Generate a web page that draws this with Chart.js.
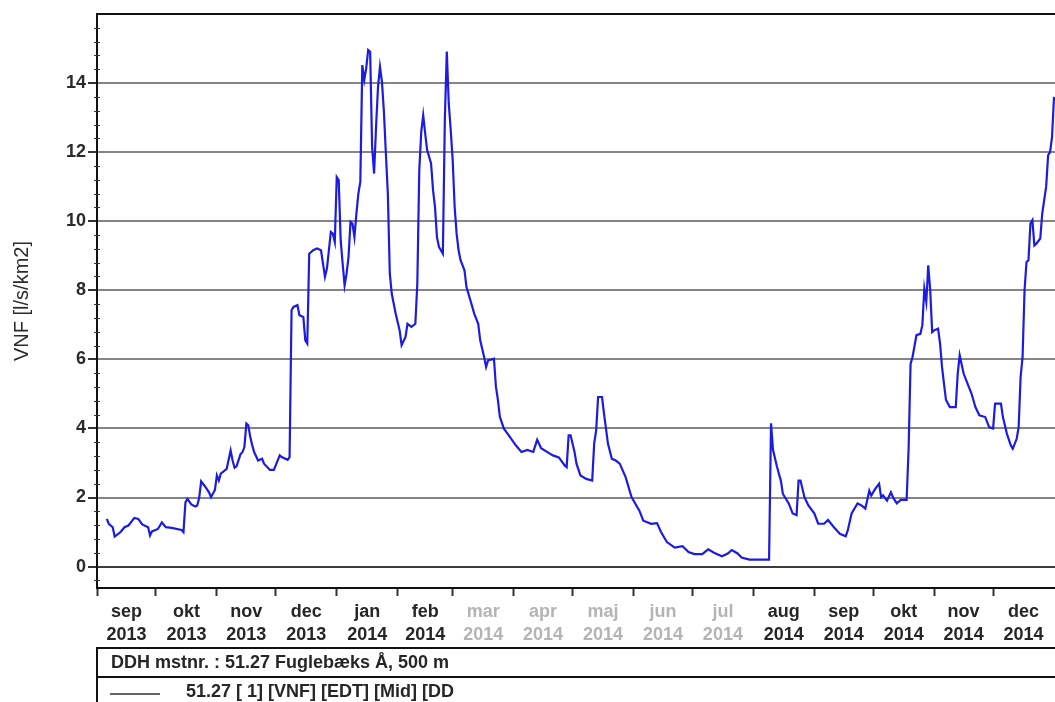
<!DOCTYPE html>
<html>
<head>
<meta charset="utf-8">
<script src="https://cdn.jsdelivr.net/npm/chart.js@4.4.1/dist/chart.umd.min.js"></script>
<style>
  html, body { margin: 0; padding: 0; background: #ffffff; }
  canvas { display: block; }
</style>
</head>
<body>
<canvas id="c" width="1055" height="702"></canvas>
<script>
// Month labels (Danish) and the first day of each month on the time axis
const monthLabels = ['sep','okt','nov','dec','jan','feb','mar','apr','maj','jun','jul','aug','sep','okt','nov','dec'];
const monthYears  = ['2013','2013','2013','2013','2014','2014','2014','2014','2014','2014','2014','2014','2014','2014','2014','2014'];
const monthStarts = ['2013-09-01','2013-10-01','2013-11-01','2013-12-01','2014-01-01','2014-02-01','2014-03-01',
                     '2014-04-01','2014-05-01','2014-06-01','2014-07-01','2014-08-01','2014-09-01','2014-10-01',
                     '2014-11-01','2014-12-01','2015-01-01'];
// labels printed in a pale grey
const paleLabelIdx = [6, 7, 8, 9, 10];

const yTicks = [0, 2, 4, 6, 8, 10, 12, 14];

// Specific runoff, VNF [l/s/km2]
const obsDates = [
  '2013-09-06','2013-09-07','2013-09-09','2013-09-10','2013-09-13','2013-09-15','2013-09-17','2013-09-20','2013-09-22','2013-09-24',
  '2013-09-27','2013-09-28','2013-09-29','2013-10-02','2013-10-04','2013-10-06','2013-10-09','2013-10-14','2013-10-15','2013-10-16',
  '2013-10-17','2013-10-19','2013-10-21','2013-10-22','2013-10-23','2013-10-24','2013-10-26','2013-10-28','2013-10-29','2013-10-31',
  '2013-11-01','2013-11-02','2013-11-03','2013-11-06','2013-11-08','2013-11-09','2013-11-10','2013-11-11','2013-11-13','2013-11-14',
  '2013-11-15','2013-11-16','2013-11-17','2013-11-18','2013-11-19','2013-11-20','2013-11-22','2013-11-24','2013-11-25','2013-11-28',
  '2013-11-30','2013-12-03','2013-12-04','2013-12-07','2013-12-08','2013-12-09','2013-12-10','2013-12-12','2013-12-13','2013-12-15',
  '2013-12-16','2013-12-17','2013-12-18','2013-12-20','2013-12-22','2013-12-24','2013-12-25','2013-12-26','2013-12-27','2013-12-29',
  '2013-12-30','2013-12-31','2014-01-01','2014-01-02','2014-01-03','2014-01-04','2014-01-05','2014-01-06','2014-01-07','2014-01-08',
  '2014-01-09','2014-01-10','2014-01-11','2014-01-12','2014-01-13','2014-01-14','2014-01-15','2014-01-16','2014-01-17','2014-01-18',
  '2014-01-19','2014-01-20','2014-01-21','2014-01-22','2014-01-23','2014-01-24','2014-01-25','2014-01-26','2014-01-27','2014-01-28',
  '2014-01-29','2014-01-31','2014-02-02','2014-02-03','2014-02-05','2014-02-06','2014-02-08','2014-02-10','2014-02-11','2014-02-12',
  '2014-02-13','2014-02-14','2014-02-15','2014-02-16','2014-02-18','2014-02-19','2014-02-20','2014-02-21','2014-02-22','2014-02-24',
  '2014-02-25','2014-02-26','2014-02-27','2014-02-28','2014-03-01','2014-03-02','2014-03-03','2014-03-04','2014-03-05','2014-03-07',
  '2014-03-08','2014-03-10','2014-03-12','2014-03-14','2014-03-15','2014-03-17','2014-03-18','2014-03-19','2014-03-22','2014-03-23',
  '2014-03-24','2014-03-25','2014-03-27','2014-03-30','2014-04-02','2014-04-05','2014-04-08','2014-04-11','2014-04-13','2014-04-15',
  '2014-04-18','2014-04-21','2014-04-24','2014-04-27','2014-04-28','2014-04-29','2014-04-30','2014-05-02','2014-05-03','2014-05-05',
  '2014-05-08','2014-05-11','2014-05-12','2014-05-13','2014-05-14','2014-05-16','2014-05-17','2014-05-18','2014-05-19','2014-05-21',
  '2014-05-23','2014-05-25','2014-05-28','2014-05-31','2014-06-04','2014-06-06','2014-06-10','2014-06-13','2014-06-15','2014-06-18',
  '2014-06-22','2014-06-26','2014-06-29','2014-07-02','2014-07-06','2014-07-09','2014-07-12','2014-07-16','2014-07-19','2014-07-21',
  '2014-07-24','2014-07-26','2014-07-30','2014-08-09','2014-08-10','2014-08-11','2014-08-13','2014-08-14','2014-08-15','2014-08-16',
  '2014-08-19','2014-08-21','2014-08-23','2014-08-24','2014-08-25','2014-08-27','2014-08-29','2014-09-01','2014-09-03','2014-09-06',
  '2014-09-08','2014-09-11','2014-09-14','2014-09-17','2014-09-18','2014-09-20','2014-09-23','2014-09-25','2014-09-27','2014-09-29',
  '2014-09-30','2014-10-02','2014-10-04','2014-10-05','2014-10-06','2014-10-08','2014-10-10','2014-10-11','2014-10-13','2014-10-15',
  '2014-10-18','2014-10-19','2014-10-20','2014-10-21','2014-10-23','2014-10-25','2014-10-26','2014-10-27','2014-10-28','2014-10-29',
  '2014-10-30','2014-10-31','2014-11-01','2014-11-03','2014-11-04','2014-11-05','2014-11-06','2014-11-07','2014-11-09','2014-11-12',
  '2014-11-13','2014-11-14','2014-11-16','2014-11-18','2014-11-20','2014-11-22','2014-11-24','2014-11-27','2014-11-29','2014-12-01',
  '2014-12-02','2014-12-05','2014-12-06','2014-12-08','2014-12-10','2014-12-11','2014-12-13','2014-12-14','2014-12-15','2014-12-16',
  '2014-12-17','2014-12-18','2014-12-19','2014-12-20','2014-12-21','2014-12-22','2014-12-23','2014-12-25','2014-12-26','2014-12-27',
  '2014-12-28','2014-12-29','2014-12-30','2014-12-31','2015-01-01'
];
const vnfValues = [
  1.38, 1.24, 1.14, 0.87, 1.00, 1.14, 1.19, 1.41, 1.38, 1.22,
  1.14, 0.90, 1.02, 1.09, 1.28, 1.14, 1.12, 1.06, 1.00, 1.86,
  1.96, 1.80, 1.74, 1.77, 1.99, 2.47, 2.32, 2.15, 2.01, 2.22,
  2.64, 2.49, 2.69, 2.83, 3.36, 3.07, 2.86, 2.90, 3.25, 3.31,
  3.46, 4.14, 4.09, 3.75, 3.51, 3.31, 3.07, 3.12, 2.98, 2.80,
  2.80, 3.22, 3.17, 3.09, 3.17, 7.42, 7.52, 7.57, 7.28, 7.23,
  6.55, 6.46, 9.06, 9.16, 9.21, 9.16, 8.77, 8.39, 8.63, 9.69,
  9.64, 9.40, 11.28, 11.19, 9.45, 8.77, 8.14, 8.48, 8.97, 9.98,
  9.93, 9.54, 10.22, 10.80, 11.14, 14.52, 14.09, 14.43, 14.96, 14.91,
  12.15, 11.38, 12.73, 13.89, 14.47, 14.04, 13.17, 11.96, 10.80, 8.48,
  7.90, 7.32, 6.84, 6.41, 6.65, 7.03, 6.94, 7.03, 8.19, 11.48,
  12.59, 13.07, 12.54, 12.06, 11.67, 10.90, 10.41, 9.54, 9.26, 9.06,
  12.93, 14.91, 13.41, 12.64, 11.77, 10.41, 9.64, 9.16, 8.87, 8.58,
  8.10, 7.71, 7.32, 7.03, 6.55, 6.07, 5.78, 5.97, 6.02, 5.21,
  4.83, 4.34, 4.00, 3.76, 3.52, 3.32, 3.38, 3.32, 3.67, 3.43,
  3.32, 3.22, 3.16, 2.93, 2.88, 3.80, 3.80, 3.32, 2.98, 2.64,
  2.54, 2.49, 3.56, 3.94, 4.91, 4.91, 4.43, 4.00, 3.56, 3.12,
  3.07, 2.98, 2.59, 2.01, 1.62, 1.33, 1.24, 1.26, 1.00, 0.71,
  0.55, 0.59, 0.42, 0.36, 0.36, 0.50, 0.40, 0.30, 0.38, 0.48,
  0.38, 0.26, 0.20, 0.20, 4.15, 3.38, 2.90, 2.69, 2.49, 2.11,
  1.83, 1.54, 1.49, 2.49, 2.49, 2.01, 1.77, 1.54, 1.24, 1.24,
  1.35, 1.14, 0.95, 0.88, 1.04, 1.54, 1.83, 1.77, 1.68, 2.20,
  2.06, 2.25, 2.40, 2.01, 2.06, 1.91, 2.15, 2.01, 1.83, 1.93,
  1.93, 3.41, 5.87, 6.07, 6.70, 6.74, 6.99, 8.05, 7.67, 8.72,
  8.00, 6.79, 6.84, 6.89, 6.46, 5.78, 5.30, 4.83, 4.62, 4.62,
  5.59, 6.12, 5.59, 5.30, 5.01, 4.62, 4.38, 4.33, 4.04, 4.00,
  4.72, 4.72, 4.33, 3.85, 3.51, 3.41, 3.70, 4.04, 5.49, 6.07,
  8.00, 8.82, 8.87, 9.93, 10.03, 9.30, 9.35, 9.50, 10.22, 10.61,
  11.00, 11.91, 12.01, 12.44, 13.60
];

const stationText = 'DDH mstnr. : 51.27 Fuglebæks Å, 500 m';
const seriesText  = '51.27 [ 1] [VNF] [EDT] [Mid] [DD';

// ---- time axis helpers: days counted from the first month start ----
function toUTC(s) { const p = s.split('-').map(Number); return Date.UTC(p[0], p[1] - 1, p[2]); }
const origin = toUTC(monthStarts[0]);
const dayOf = s => (toUTC(s) - origin) / 864e5;

const boundaryDays = monthStarts.slice(0, -1).map(dayOf);
const midDays = monthLabels.map((_, i) => (dayOf(monthStarts[i]) + dayOf(monthStarts[i + 1])) / 2);
const xTickDays = boundaryDays.concat(midDays).sort((a, b) => a - b);

const points = obsDates.map((d, i) => ({ x: dayOf(d), y: vnfValues[i] }));

const FONT = "'Liberation Sans', Arial, sans-serif";

// Frame, minor axis ticks and the station/series table under the axis
const framePlugin = {
  id: 'frame',
  afterDraw(chart) {
    const { ctx, chartArea: a, scales: { y } } = chart;
    ctx.save();
    ctx.strokeStyle = '#111';
    ctx.lineWidth = 2;
    ctx.beginPath();
    ctx.moveTo(a.left, a.top); ctx.lineTo(a.right, a.top);
    ctx.stroke();

    ctx.lineWidth = 1;
    ctx.strokeStyle = '#333';
    for (let k = -1; k <= 40; k++) {
      const v = k * 0.4;
      if (Math.abs(v / 2 - Math.round(v / 2)) < 1e-6) continue;
      const py = Math.round(y.getPixelForValue(v)) + 0.5;
      if (py < a.top || py > a.bottom) continue;
      ctx.beginPath();
      ctx.moveTo(a.left - 3, py); ctx.lineTo(a.left + 3, py);
      ctx.stroke();
    }

    // table below the time axis
    const W = chart.width;
    ctx.strokeStyle = '#111';
    ctx.lineWidth = 2;
    ctx.beginPath();
    ctx.moveTo(a.left, 648); ctx.lineTo(W, 648);
    ctx.moveTo(a.left, 677); ctx.lineTo(W, 677);
    ctx.moveTo(a.left, 647); ctx.lineTo(a.left, chart.height);
    ctx.stroke();

    ctx.fillStyle = '#262626';
    ctx.font = 'bold 18px ' + FONT;
    ctx.textBaseline = 'middle';
    ctx.textAlign = 'left';
    ctx.fillText(stationText, 111, 663);

    ctx.strokeStyle = '#333';
    ctx.lineWidth = 1.5;
    ctx.beginPath();
    ctx.moveTo(110, 694); ctx.lineTo(160, 694);
    ctx.stroke();
    ctx.fillText(seriesText, 186, 692);
    ctx.restore();
  }
};

new Chart(document.getElementById('c'), {
  type: 'line',
  data: {
    datasets: [{
      data: points,
      borderColor: 'rgb(28,28,225)',
      borderWidth: 2.2,
      pointRadius: 0,
      tension: 0,
      fill: false
    }]
  },
  options: {
    responsive: false,
    animation: false,
    devicePixelRatio: 1,
    layout: { padding: { top: 14, left: 0, right: 0, bottom: 0 } },
    plugins: { legend: { display: false }, tooltip: { enabled: false } },
    scales: {
      x: {
        type: 'linear',
        min: 0,
        max: 487.5,
        afterBuildTicks: s => { s.ticks = xTickDays.map(v => ({ value: v })); },
        afterFit: s => { s.height = 114; },
        ticks: {
          autoSkip: false,
          maxRotation: 0,
          minRotation: 0,
          padding: 4,
          font: { family: FONT, size: 18, weight: 'bold', lineHeight: 1.3 },
          color: c => {
            const i = midDays.indexOf(c.tick ? c.tick.value : NaN);
            return paleLabelIdx.includes(i) ? '#b4b4b4' : '#262626';
          },
          callback: v => {
            const i = midDays.indexOf(v);
            return i >= 0 ? [monthLabels[i], monthYears[i]] : '';
          }
        },
        grid: {
          drawOnChartArea: false,
          tickLength: 8,
          tickWidth: 2,
          tickColor: c => (c.tick && boundaryDays.includes(c.tick.value)) ? '#333' : 'rgba(0,0,0,0)'
        },
        border: { color: '#111', width: 2 }
      },
      y: {
        min: -0.62,
        max: 16,
        afterBuildTicks: s => { s.ticks = yTicks.map(v => ({ value: v })); },
        afterFit: s => { s.width = 97; },
        ticks: {
          padding: 2,
          color: '#2a2a2a',
          font: { family: FONT, size: 18, weight: 'bold' }
        },
        grid: {
          color: c => (c.tick && c.tick.value === 0) ? '#3c3c3c' : '#858585',
          lineWidth: 2,
          tickLength: 9,
          tickColor: '#333'
        },
        border: { color: '#111', width: 2 },
        title: {
          display: true,
          text: 'VNF [l/s/km2]',
          color: '#2a2a2a',
          font: { family: FONT, size: 20 },
          padding: { top: 10, bottom: 0 }
        }
      }
    }
  },
  plugins: [framePlugin]
});
</script>
</body>
</html>
